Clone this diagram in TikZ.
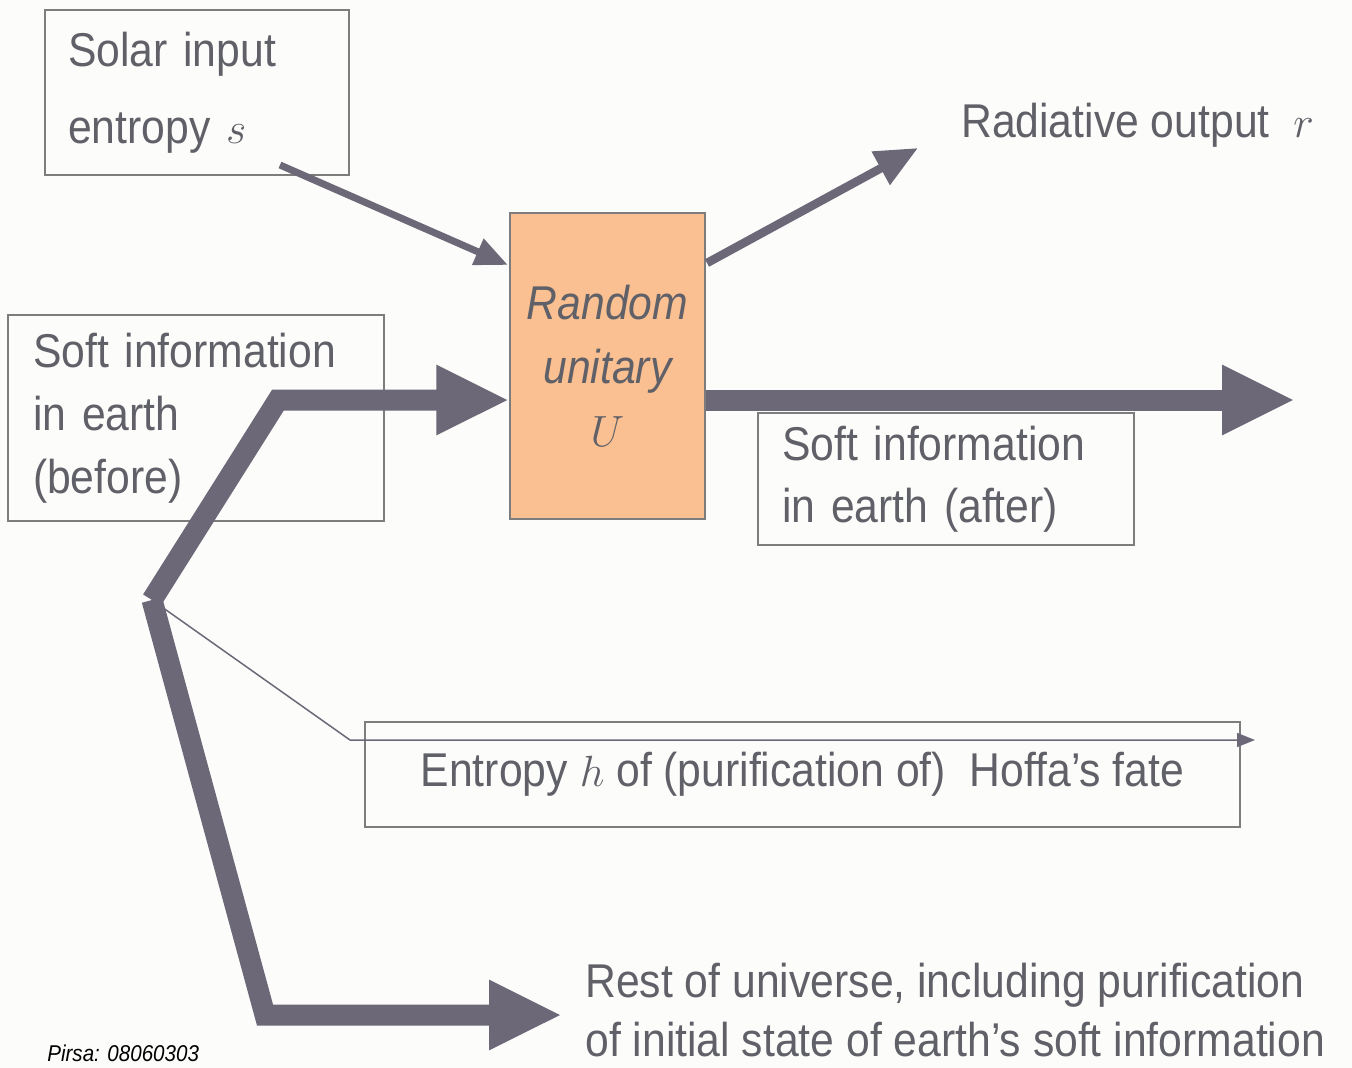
\documentclass[tikz,border=0pt]{standalone}
\usepackage{fontspec}
\setmainfont{Liberation Sans}[FakeStretch=0.9]
\usepackage{tikz}
\usetikzlibrary{arrows.meta,calc}

\definecolor{arrowgray}{RGB}{108,104,120}
\definecolor{textgray}{RGB}{96,96,104}
\definecolor{boxgray}{RGB}{125,125,125}
\definecolor{unitaryorange}{RGB}{250,192,145}
\definecolor{paper}{RGB}{252,252,250}

\tikzset{
  labelbox/.style={draw=boxgray, line width=0.03cm, align=left, inner ysep=0pt,
    text=textgray, font=\fontsize{27}{35.7}\selectfont},
  bigarrow/.style={draw=arrowgray, line width=0.42cm,
    -{Triangle[length=1.46cm,width=1.3cm]}},
  midarrow/.style={draw=arrowgray, line width=0.17cm,
    -{Triangle[length=0.85cm,width=0.72cm]}},
  smallarrow/.style={draw=arrowgray, line width=0.14cm,
    -{Triangle[length=0.66cm,width=0.54cm]}},
  thinarrow/.style={draw=arrowgray, line width=0.03cm,
    -{Triangle[length=0.36cm,width=0.28cm]}},
  freetext/.style={text=textgray, align=left, font=\fontsize{27}{34}\selectfont}
}

\begin{document}
\begin{tikzpicture}[x=0.02cm, y=-0.02cm]

% paper
\fill[paper] (0,0) rectangle (1352,1068);
\useasboundingbox (0,0) rectangle (1352,1068);

%
% Boxes
%

% Solar input
\node[labelbox, font=\fontsize{27}{44}\selectfont, text width=5.16cm, inner xsep=0.46cm,
  minimum height=3.3cm] (solar) at (197,92.5)
  {Solar input\\entropy {\fontsize{36}{44}\selectfont$s$}};

% Random unitary
\node[draw=boxgray, fill=unitaryorange, line width=0.03cm, minimum width=3.9cm,
  minimum height=6.12cm, align=center, text=textgray,
  font=\fontsize{27}{36}\itshape] (unitary) at (607.5,366)
  {Random\\unitary\\{\fontsize{30}{36}\selectfont$U$}};

% Soft information before
\node[labelbox, text width=6.52cm, inner xsep=0.5cm, minimum height=4.12cm]
  (before) at (196,418)
  {Soft information\\in earth\\(before)};

% Soft information after
\node[labelbox, font=\fontsize{27}{35}\selectfont, text width=6.56cm, inner xsep=0.48cm,
  minimum height=2.64cm] (after) at (946,479)
  {Soft information\\in earth (after)};

% Hoffa's fate
\node[labelbox, align=center, minimum width=17.5cm, minimum height=2.1cm]
  (hoffa) at (802.5,774.5)
  {Entropy {\fontsize{40}{36}\selectfont$h$} of (purification of)\ \ Hoffa's fate};

% Radiative output
\node[freetext, anchor=west] (radiative) at (955,125) {Radiative output\ \ {\fontsize{30}{34}\selectfont$r$}};

% Rest of universe
\node[freetext, anchor=west, inner sep=0pt] (rest) at (585,1010)
  {Rest of universe, including purification\\of initial state of earth's soft information};

% Footer
\node[anchor=base west, inner sep=0pt, font=\fontsize{13}{15}\itshape] (pirsa) at (47,1061)
  {Pirsa: 08060303};

%
% Connectors
%
\coordinate (sOut) at (280,165);
\coordinate (sIn) at (508,265);
\coordinate (rOut) at (707,263);
\coordinate (rTip) at (918,148);
\coordinate (jn) at (152,600);
\coordinate (bendUp) at (278,400);
\coordinate (softTip) at (1295,400);
\coordinate (bendDown) at (265,1015);
\coordinate (restTip) at (562,1015);
\coordinate (hBend) at (350,740);
\coordinate (hTip) at (1255,740);

\draw[smallarrow] (sOut) -- (sIn);
\draw[midarrow] (rOut) -- (rTip);

\draw[bigarrow] (jn) -- (bendUp) -- (bendUp -| unitary.west);
\draw[bigarrow] (bendUp -| unitary.east) -- (softTip);
\draw[bigarrow] (jn) -- (bendDown) -- (restTip);

\draw[thinarrow] (jn) -- (hBend) -- (hTip);

\end{tikzpicture}
\end{document}
